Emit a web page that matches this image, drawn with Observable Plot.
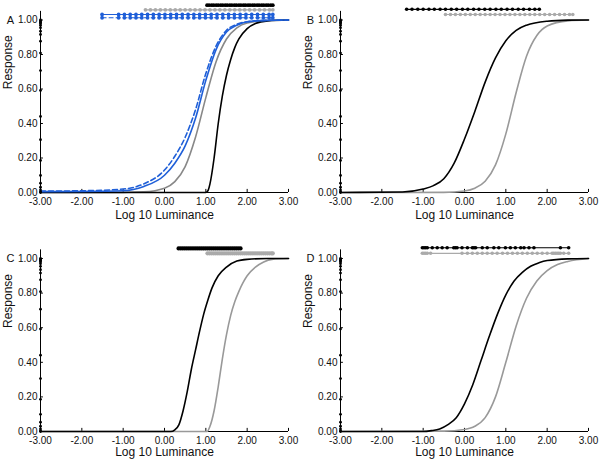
<!DOCTYPE html>
<html><head><meta charset="utf-8">
<script src="https://cdn.jsdelivr.net/npm/d3@7"></script>
<script src="https://cdn.jsdelivr.net/npm/@observablehq/plot@0.6"></script>
<style>
body{margin:0;background:#fff}
#grid{display:grid;grid-template-columns:300px 300px;width:600px}
</style>
</head><body><div id="grid"></div>
<script>
// ---- data ----
const xTicks = [-3, -2, -1, 0, 1, 2, 3];
const yTicks = [0, 0.2, 0.4, 0.6, 0.8, 1];
const xLabel = "Log 10 Luminance";
const yLabel = "Response";
const panelLetters = ["A", "B", "C", "D"];

// dots drawn on the y axis (same in every panel)
const axisDots = [1.0, 0.995, 0.99, 0.985, 0.98, 0.97, 0.955, 0.935, 0.916, 0.877, 0.808, 0.707, 0.592, 0.441, 0.306, 0.186, 0.099, 0.054, 0.031, 0.015, 0.004, 0];

// Panel A curves
const aBlackX = [-3, 1.0, 1.05, 1.1, 1.2, 1.3, 1.4, 1.5, 1.6, 1.7, 1.8, 2.0, 2.2, 2.5, 3];
const aBlackY = [0, 0, 0.01, 0.05, 0.2, 0.4, 0.56, 0.68, 0.77, 0.84, 0.89, 0.95, 0.98, 0.995, 1];
const aGrayX = [-3, -1, -0.5, 0, 0.25, 0.5, 0.75, 1.0, 1.25, 1.5, 1.75, 2.0, 2.5, 3];
const aGrayY = [0, 0.001, 0.004, 0.025, 0.063, 0.15, 0.32, 0.55, 0.76, 0.89, 0.955, 0.983, 0.997, 1];
const aBlueX = [-3, -2, -1, -0.5, 0, 0.25, 0.5, 0.75, 1.0, 1.25, 1.5, 1.75, 2.0, 2.5, 3];
const aBlueY = [0.005, 0.006, 0.01, 0.035, 0.1, 0.17, 0.27, 0.43, 0.65, 0.83, 0.93, 0.97, 0.99, 0.998, 1];
const aBlueDashX = [-3, -2, -1, -0.5, 0, 0.25, 0.5, 0.75, 1.0, 1.25, 1.5, 1.75, 2.0, 2.5, 3];
const aBlueDashY = [0.008, 0.01, 0.02, 0.05, 0.13, 0.21, 0.32, 0.48, 0.69, 0.85, 0.94, 0.975, 0.99, 0.998, 1];
// Panel A stimulus rows
const aBlackRow = [1.03, 1.08, 1.14, 1.19, 1.25, 1.30, 1.36, 1.41, 1.47, 1.52, 1.58, 1.63, 1.69, 1.74, 1.80, 1.85, 1.91, 1.96, 2.02, 2.07, 2.13, 2.18, 2.24, 2.29, 2.35, 2.40, 2.46, 2.51, 2.57, 2.62];
const aGrayRow = [-0.46, -0.34, -0.22, -0.10, 0.02, 0.14, 0.26, 0.38, 0.50, 0.62, 0.74, 0.86, 0.98, 1.10, 1.22, 1.34, 1.46, 1.58, 1.70, 1.82, 1.94, 2.06, 2.18, 2.30, 2.42, 2.54, 2.62];
const aBlueRow = [-1.51, -1.11, -0.97, -0.83, -0.69, -0.55, -0.41, -0.27, -0.13, 0.01, 0.15, 0.29, 0.43, 0.57, 0.71, 0.85, 0.99, 1.13, 1.27, 1.41, 1.55, 1.69, 1.83, 1.97, 2.11, 2.25, 2.39, 2.53, 2.62];
const aBlueDashRow = [-1.51, -1.11, -0.97, -0.83, -0.69, -0.55, -0.41, -0.27, -0.13, 0.01, 0.15, 0.29, 0.43, 0.57, 0.71, 0.85, 0.99, 1.13, 1.27, 1.41, 1.55, 1.69, 1.83, 1.97, 2.11, 2.25, 2.39, 2.53, 2.62];

// Panel B
const bBlackX = [-3, -1.5, -1.0, -0.75, -0.5, -0.25, 0, 0.25, 0.5, 0.75, 1.0, 1.25, 1.5, 2.0, 2.5, 3];
const bBlackY = [0, 0.003, 0.02, 0.04, 0.08, 0.17, 0.31, 0.47, 0.64, 0.78, 0.88, 0.94, 0.97, 0.993, 0.999, 1];
const bGrayX = [-3, -0.5, 0, 0.25, 0.5, 0.75, 1.0, 1.25, 1.5, 1.75, 2.0, 2.5, 3];
const bGrayY = [0, 0.001, 0.009, 0.025, 0.065, 0.16, 0.34, 0.58, 0.79, 0.91, 0.965, 0.995, 1];
const bBlackRow = [-1.40, -1.27, -1.13, -1.00, -0.86, -0.73, -0.59, -0.46, -0.32, -0.19, -0.05, 0.08, 0.22, 0.35, 0.49, 0.62, 0.76, 0.89, 1.03, 1.16, 1.30, 1.43, 1.57, 1.70, 1.81];
const bGrayRow = [-0.46, -0.34, -0.22, -0.10, 0.02, 0.14, 0.26, 0.38, 0.50, 0.62, 0.74, 0.86, 0.98, 1.10, 1.22, 1.34, 1.46, 1.58, 1.70, 1.82, 1.94, 2.06, 2.18, 2.30, 2.42, 2.54, 2.62];

// Panel C
const cBlackX = [-3, 0.15, 0.25, 0.35, 0.45, 0.55, 0.65, 0.75, 0.85, 0.95, 1.05, 1.15, 1.3, 1.5, 1.75, 2.0, 2.5, 3];
const cBlackY = [0, 0, 0.01, 0.04, 0.12, 0.23, 0.36, 0.47, 0.58, 0.68, 0.76, 0.83, 0.9, 0.95, 0.985, 0.995, 1, 1];
const cGrayX = [-3, 1.03, 1.1, 1.2, 1.3, 1.4, 1.5, 1.6, 1.7, 1.8, 1.9, 2.0, 2.2, 2.4, 2.6, 3];
const cGrayY = [0, 0, 0.03, 0.12, 0.26, 0.42, 0.56, 0.67, 0.75, 0.81, 0.86, 0.9, 0.95, 0.98, 0.995, 1];
const cBlackRow = [0.34, 0.39, 0.44, 0.49, 0.54, 0.59, 0.64, 0.69, 0.74, 0.79, 0.84, 0.89, 0.94, 0.99, 1.04, 1.09, 1.14, 1.19, 1.24, 1.29, 1.34, 1.39, 1.44, 1.49, 1.54, 1.59, 1.64, 1.69, 1.74, 1.79, 1.84];
const cGrayRow = [1.04, 1.09, 1.14, 1.19, 1.24, 1.29, 1.34, 1.39, 1.44, 1.49, 1.54, 1.59, 1.64, 1.69, 1.74, 1.79, 1.84, 1.89, 1.94, 1.99, 2.04, 2.09, 2.14, 2.19, 2.24, 2.29, 2.34, 2.39, 2.44, 2.49, 2.54, 2.59, 2.62];

// Panel D
const dBlackX = [-3, -1.0, -0.8, -0.6, -0.4, -0.2, 0, 0.2, 0.4, 0.6, 0.8, 1.0, 1.2, 1.4, 1.6, 1.8, 2.0, 2.5, 3];
const dBlackY = [0, 0, 0.005, 0.015, 0.04, 0.08, 0.16, 0.27, 0.41, 0.55, 0.68, 0.79, 0.87, 0.92, 0.955, 0.975, 0.988, 0.998, 1];
const dGrayX = [-3, -0.5, 0, 0.25, 0.5, 0.75, 1.0, 1.25, 1.5, 1.75, 2.0, 2.25, 2.5, 3];
const dGrayY = [0, 0.002, 0.012, 0.03, 0.08, 0.2, 0.4, 0.61, 0.77, 0.87, 0.93, 0.965, 0.983, 1];
const dBlackRow = [-1.02, -0.98, -0.94, -0.90, -0.78, -0.66, -0.54, -0.42, -0.26, -0.22, -0.18, -0.06, 0.07, 0.19, 0.23, 0.27, 0.43, 0.55, 0.71, 0.83, 0.99, 1.11, 1.23, 1.36, 1.44, 1.56, 1.68, 2.32, 2.52];
const dGrayRow = [-1.02, -0.98, -0.94, -0.90, -0.82, -0.06, 0.07, 0.19, 0.31, 0.43, 0.55, 0.67, 0.79, 0.92, 1.04, 1.16, 1.28, 1.40, 1.52, 1.64, 1.76, 1.88, 2.00, 2.12, 2.16, 2.20, 2.24, 2.28, 2.32, 2.40, 2.52];

// ---- drawing ----
const BLACK = "#000", GRAY = "#999", BLUE = "#1f5fd8";
const zip = (xs, ys) => xs.map((x, i) => ({x, y: ys[i]}));

function curveMark(xs, ys, stroke, dash) {
  return Plot.line(zip(xs, ys), {x: "x", y: "y", stroke, strokeWidth: 1.6, curve: "monotone-x", strokeDasharray: dash});
}
function rowMarks(xs, level, color, r, dash) {
  const data = xs.map(x => ({x, y: level}));
  return [
    Plot.line(data, {x: "x", y: "y", stroke: color, strokeWidth: 1.2, strokeDasharray: dash}),
    Plot.dot(data, {x: "x", y: "y", r, fill: color, stroke: "none"})
  ];
}

function panel(letter, curves, rows, mt, mb, tickPad, labelDy) {
  return Plot.plot({
    width: 300, height: 231,
    marginLeft: 40, marginRight: 12, marginTop: mt, marginBottom: mb,
    style: {fontFamily: "'Liberation Sans', Arial, sans-serif", fontSize: "10px", color: "#111", background: "#fff", overflow: "visible"},
    x: {domain: [-3, 3], ticks: xTicks, tickFormat: d => d.toFixed(2), tickSize: 0, tickPadding: tickPad, label: null},
    y: {domain: [0, 1], ticks: yTicks, tickFormat: d => d.toFixed(2), tickSize: 0, tickPadding: 3, label: null},
    marks: [
      Plot.ruleY([0], {x1: -3, x2: 3, stroke: BLACK, strokeWidth: 1}),
      Plot.ruleX([-3], {y1: 0, y2: 1.05, stroke: BLACK, strokeWidth: 1}),
      Plot.ruleX(xTicks, {x: d => d, y1: 0, y2: 0.018, stroke: BLACK}),
      Plot.ruleY(yTicks, {y: d => d, x1: -3, x2: -2.93, stroke: BLACK}),
      ...curves,
      Plot.dot(axisDots, {x: () => -3, y: d => d, r: 1.4, fill: BLACK, stroke: "none"}),
      ...rows.flat(),
      Plot.text([xLabel], {frameAnchor: "bottom", dy: labelDy, fontSize: 12, fill: "#111"}),
      Plot.text([yLabel], {frameAnchor: "left", dx: -32, dy: -17, rotate: -90, fontSize: 12, fill: "#111"}),
      Plot.text([letter], {x: () => -3, y: () => 1, dx: -30, fontSize: 11, fill: "#111"})
    ]
  });
}

const grid = document.getElementById("grid");
grid.append(panel(panelLetters[0],
  [curveMark(aGrayX, aGrayY, "#888"), curveMark(aBlackX, aBlackY, BLACK),
   curveMark(aBlueDashX, aBlueDashY, BLUE, "5,3"), curveMark(aBlueX, aBlueY, BLUE)],
  [rowMarks(aBlackRow, 1.086, BLACK, 1.9), rowMarks(aGrayRow, 1.059, "#aaa", 1.9),
   rowMarks(aBlueRow, 1.032, BLUE, 1.9), rowMarks(aBlueDashRow, 1.013, BLUE, 1.9, "4,3")],
  19.5, 39, 5, 26));
grid.append(panel(panelLetters[1],
  [curveMark(bGrayX, bGrayY, GRAY), curveMark(bBlackX, bBlackY, BLACK)],
  [rowMarks(bBlackRow, 1.062, BLACK, 1.8), rowMarks(bGrayRow, 1.032, "#aaa", 1.8)],
  19.5, 39, 5, 26));
grid.append(panel(panelLetters[2],
  [curveMark(cGrayX, cGrayY, GRAY), curveMark(cBlackX, cBlackY, BLACK)],
  [rowMarks(cBlackRow, 1.058, BLACK, 2.1), rowMarks(cGrayRow, 1.03, "#aaa", 2.1)],
  27, 31, 5, 24));
grid.append(panel(panelLetters[3],
  [curveMark(dGrayX, dGrayY, GRAY), curveMark(dBlackX, dBlackY, BLACK)],
  [rowMarks(dBlackRow, 1.062, BLACK, 1.8), rowMarks(dGrayRow, 1.03, "#aaa", 1.8)],
  27, 31, 5, 24));
</script></body></html>
